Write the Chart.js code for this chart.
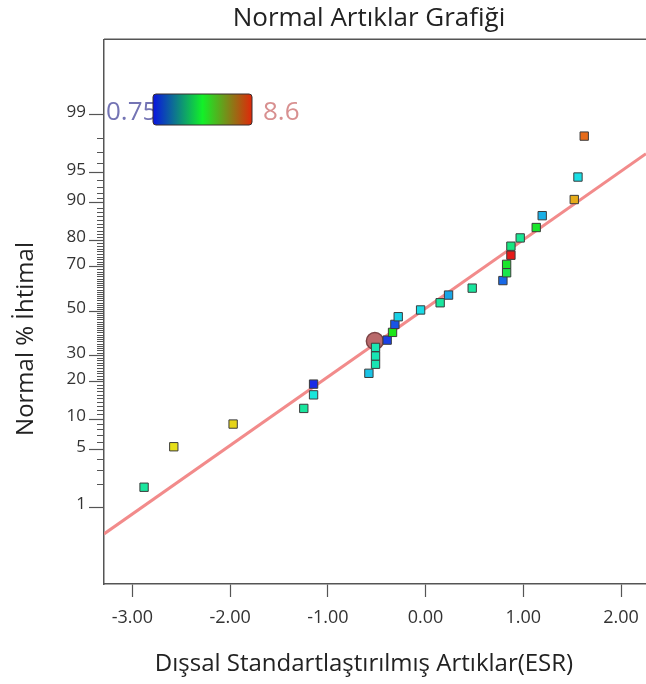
<!DOCTYPE html>
<html lang="tr">
<head>
<meta charset="UTF-8">
<title>Normal Artıklar Grafiği</title>
<script src="https://cdn.jsdelivr.net/npm/chart.js"></script>
<style>
  body { margin: 0; background: #fff; }
  #wrap { width: 646px; height: 684px; }
</style>
</head>
<body>
<div id="wrap"><canvas id="normalPlot" width="646" height="684"></canvas></div>
<script>
// externally studentized residuals (x) and their normal probability in %
const esr = [-2.88, -2.576, -1.969, -1.246, -1.146, -1.146, -0.58, -0.512, -0.512, -0.512,
             -0.393, -0.338, -0.314, -0.28, -0.051, 0.149, 0.235, 0.477, 0.791, 0.829,
             0.829, 0.873, 0.873, 0.968, 1.132, 1.193, 1.521, 1.559, 1.623];
const probPct = [1.83, 5.37, 9.0, 12.4, 16.0, 19.3, 23.0, 26.4, 29.7, 33.3,
                 36.5, 40.0, 43.7, 47.3, 50.5, 53.9, 57.5, 60.7, 64.1, 67.5,
                 71.0, 74.6, 77.9, 80.7, 83.9, 87.1, 90.7, 94.4, 98.1];
// response value of each run, used for the point colour
const response = [3.4, 6.7, 6.8, 3.4, 2.8, 0.9, 2.4, 3.2, 3.2, 3.2,
                  1.1, 4.7, 1.3, 2.5, 2.6, 3.4, 2.1, 3.4, 1.5, 4.2,
                  4.5, 8.6, 3.7, 3.5, 4.5, 2.2, 7.2, 2.65, 7.8];
// highlighted run (big circle)
const markX = [-0.519];
const markPct = [36.1];
// fitted normal line
const lineX = [-3.29, 2.255];
const linePct = [0.41, 96.9];

const yTickPct = [1, 5, 10, 20, 30, 50, 70, 80, 90, 95, 99];
const xTicks = [-3, -2, -1, 0, 1, 2];
const colorMin = 0.75, colorMax = 8.6;

const FONT = "'Open Sans', 'Noto Sans', sans-serif";

// inverse of the normal cdf (Acklam)
function probit(p) {
  const a = [-39.69683028665376, 220.9460984245205, -275.9285104469687, 138.3577518672690, -30.66479806614716, 2.506628277459239];
  const b = [-54.47609879822406, 161.5858368580409, -155.6989798598866, 66.80131188771972, -13.28068155288572];
  const c = [-0.007784894002430293, -0.3223964580411365, -2.400758277161838, -2.549732539343734, 4.374664141464968, 2.938163982698783];
  const d = [0.007784695709041462, 0.3224671290700398, 2.445134137142996, 3.754408661907416];
  const pl = 0.02425;
  let q, r;
  if (p < pl) {
    q = Math.sqrt(-2 * Math.log(p));
    return (((((c[0]*q + c[1])*q + c[2])*q + c[3])*q + c[4])*q + c[5]) / ((((d[0]*q + d[1])*q + d[2])*q + d[3])*q + 1);
  }
  if (p > 1 - pl) {
    q = Math.sqrt(-2 * Math.log(1 - p));
    return -(((((c[0]*q + c[1])*q + c[2])*q + c[3])*q + c[4])*q + c[5]) / ((((d[0]*q + d[1])*q + d[2])*q + d[3])*q + 1);
  }
  q = p - 0.5; r = q * q;
  return (((((a[0]*r + a[1])*r + a[2])*r + a[3])*r + a[4])*r + a[5]) * q / (((((b[0]*r + b[1])*r + b[2])*r + b[3])*r + b[4])*r + 1);
}
const toZ = pct => probit(pct / 100);

function colorFor(v) {
  const t = Math.min(1, Math.max(0, (v - colorMin) / (colorMax - colorMin)));
  return 'hsl(' + (240 * (1 - t)).toFixed(0) + ', 80%, 50%)';
}

// frame, minor ticks, colour key and titles
const decorations = {
  id: 'decorations',
  afterDraw(chart) {
    const ctx = chart.ctx;
    const area = chart.chartArea;
    const ys = chart.scales.y;
    ctx.save();

    // top border of the plot box (right side runs off the picture)
    ctx.strokeStyle = '#555';
    ctx.lineWidth = 1.5;
    ctx.beginPath();
    ctx.moveTo(area.left, area.top);
    ctx.lineTo(area.right, area.top);
    ctx.stroke();

    // minor ticks at every whole percent
    ctx.lineWidth = 1;
    ctx.beginPath();
    for (let p = 1; p <= 99; p++) {
      if (yTickPct.includes(p)) continue;
      const y = Math.round(ys.getPixelForValue(toZ(p))) + 0.5;
      ctx.moveTo(area.left - 7, y);
      ctx.lineTo(area.left, y);
    }
    ctx.stroke();

    // colour key
    ctx.font = '26px ' + FONT;
    ctx.textBaseline = 'alphabetic';
    ctx.textAlign = 'left';
    ctx.fillStyle = '#7474b4';
    ctx.fillText(colorMin.toString(), 106, 120);
    const bx = 153, by = 94, bw = 99, bh = 31;
    const grad = ctx.createLinearGradient(bx, 0, bx + bw, 0);
    grad.addColorStop(0, '#0a14e0');
    grad.addColorStop(0.5, '#12f028');
    grad.addColorStop(1, '#e0280a');
    ctx.fillStyle = grad;
    ctx.beginPath();
    ctx.roundRect(bx, by, bw, bh, 3);
    ctx.fill();
    ctx.strokeStyle = '#3a2e2e';
    ctx.lineWidth = 1;
    ctx.stroke();
    ctx.fillStyle = '#d89090';
    ctx.fillText(colorMax.toString(), 263, 120);

    // titles
    ctx.fillStyle = '#222';
    ctx.textAlign = 'center';
    ctx.font = '26px ' + FONT;
    ctx.fillText('Normal Artıklar Grafiği', 369, 26);
    ctx.font = '24px ' + FONT;
    ctx.fillText('Dışsal Standartlaştırılmış Artıklar(ESR)', 364, 671);
    ctx.translate(33, 339);
    ctx.rotate(-Math.PI / 2);
    ctx.fillText('Normal % İhtimal', 0, 0);
    ctx.restore();
  }
};

new Chart(document.getElementById('normalPlot'), {
  type: 'scatter',
  data: {
    datasets: [
      {
        type: 'line',
        data: lineX.map((x, i) => ({ x: x, y: toZ(linePct[i]) })),
        borderColor: '#f28b8b',
        borderWidth: 3,
        pointRadius: 0,
        order: 3
      },
      {
        data: markX.map((x, i) => ({ x: x, y: toZ(markPct[i]) })),
        pointStyle: 'circle',
        pointRadius: 8.5,
        backgroundColor: '#b9696b',
        borderColor: '#7d4446',
        borderWidth: 1.5,
        order: 2
      },
      {
        data: esr.map((x, i) => ({ x: x, y: toZ(probPct[i]) })),
        pointStyle: 'rect',
        pointRadius: 5.9,
        backgroundColor: response.map(colorFor),
        borderColor: '#3c3c3c',
        borderWidth: 1,
        order: 1
      }
    ]
  },
  options: {
    responsive: false,
    animation: false,
    devicePixelRatio: 1,
    layout: { autoPadding: false, padding: { top: 39.3, left: 0, right: 0, bottom: 0 } },
    plugins: {
      legend: { display: false },
      tooltip: { enabled: false },
      title: { display: false }
    },
    scales: {
      x: {
        type: 'linear',
        min: -3.29,
        max: 2.255,
        afterFit: s => { s.height = 100; s.paddingLeft = 0; s.paddingRight = 0; },
        afterBuildTicks: s => { s.ticks = xTicks.map(v => ({ value: v })); },
        ticks: {
          callback: v => v.toFixed(2),
          font: { family: FONT, size: 18 },
          color: '#333',
          padding: 10,
          maxRotation: 0
        },
        grid: { drawOnChartArea: false, tickLength: 13, tickColor: '#555', tickWidth: 1.2 },
        border: { color: '#555', width: 1.5 }
      },
      y: {
        type: 'linear',
        min: -3.238,
        max: 3.223,
        afterFit: s => { s.width = 104; s.paddingTop = 0; s.paddingBottom = 0; },
        afterBuildTicks: s => { s.ticks = yTickPct.map(p => ({ value: toZ(p) })); },
        ticks: {
          callback: (v, i) => String(yTickPct[i]),
          font: { family: FONT, size: 17 },
          color: '#333',
          padding: 3,
          labelOffset: -2.5
        },
        grid: { drawOnChartArea: false, tickLength: 15, tickColor: '#555', tickWidth: 1.2 },
        border: { color: '#555', width: 1.5 }
      }
    }
  },
  plugins: [decorations]
});
</script>
</body>
</html>
